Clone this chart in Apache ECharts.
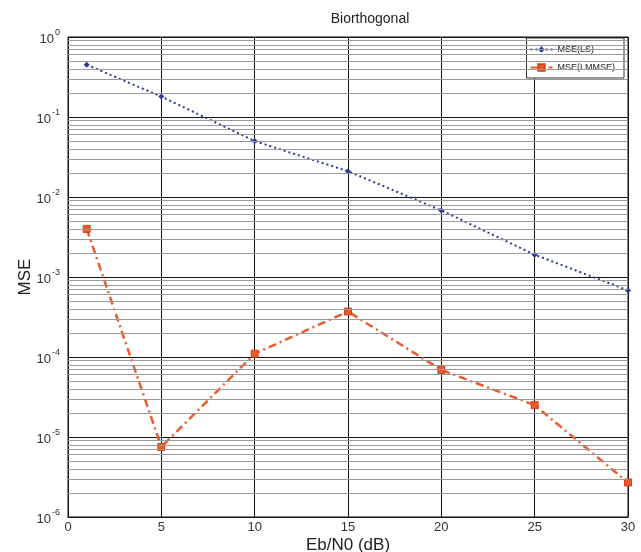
<!DOCTYPE html>
<html><head><meta charset="utf-8">
<script src="https://cdn.jsdelivr.net/npm/echarts@6/dist/echarts.min.js"></script>
<style>html,body{margin:0;padding:0;background:#fff}#c{width:641px;height:552px}</style>
</head><body><div id="c"></div>
<script>
const title = 'Biorthogonal';
const xValues = [1, 5, 10, 15, 20, 25, 30];
const mseLS = [0.45, 0.18, 0.05, 0.021, 0.0068, 0.0019, 0.00068];
const mseLMMSE = [0.0040, 7.5e-6, 1.1e-4, 3.7e-4, 6.9e-5, 2.5e-5, 2.7e-6];
const xTicks = [0, 5, 10, 15, 20, 25, 30];
const yDecades = [-6, -5, -4, -3, -2, -1, 0];

const minorLines = [];
for (let d = -6; d < 0; d++) for (let k = 2; k <= 9; k++) minorLines.push({yAxis: k * Math.pow(10, d)});

const chart = echarts.init(document.getElementById('c'), null, {renderer: 'canvas'});
chart.setOption({
  animation: false,
  backgroundColor: '#fff',
  title: {text: title, left: 365, top: 7, textAlign: 'center',
    textStyle: {fontFamily: 'Liberation Sans, Arial', fontSize: 14, fontWeight: 'normal', color: '#222'}},
  legend: {
    right: 17, top: 38, orient: 'vertical', itemGap: 9, itemWidth: 22, itemHeight: 8,
    backgroundColor: '#fff', borderColor: '#333', borderWidth: 1, padding: [7, 9, 6, 3],
    textStyle: {fontFamily: 'Liberation Sans, Arial', fontSize: 9, color: '#222'},
    data: ['MSE(LS)', 'MSE(LMMSE)']
  },
  grid: {left: 68, right: 13, top: 37, bottom: 35, show: true, borderColor: '#111', borderWidth: 1,
    containLabel: false, outerBoundsMode: 'none'},
  xAxis: {
    type: 'value', min: 0, max: 30, interval: 5,
    name: 'Eb/N0 (dB)', nameLocation: 'middle', nameGap: 20, nameMoveOverlap: false,
    nameTextStyle: {fontFamily: 'Liberation Sans, Arial', fontSize: 17, color: '#222'},
    axisLine: {lineStyle: {color: '#111'}},
    axisTick: {inside: true, length: 5, lineStyle: {color: '#111'}},
    axisLabel: {fontFamily: 'Liberation Sans, Arial', fontSize: 13, color: '#333', margin: 4,
      formatter: v => xTicks.includes(v) ? String(v) : ''},
    splitLine: {show: true, lineStyle: {color: '#111', width: 1}}
  },
  yAxis: {
    type: 'log', logBase: 10, min: 1e-6, max: 1,
    name: 'MSE', nameLocation: 'middle', nameGap: 34, nameMoveOverlap: false,
    nameTextStyle: {fontFamily: 'Liberation Sans, Arial', fontSize: 17, color: '#222'},
    axisLine: {lineStyle: {color: '#111'}},
    axisTick: {inside: true, length: 5, lineStyle: {color: '#111'}},
    axisLabel: {
      margin: 8, color: '#333',
      formatter: v => {
        const e = Math.round(Math.log10(v));
        return yDecades.includes(e) ? '{b|10}{s|' + e + '}' : '';
      },
      rich: {
        b: {fontFamily: 'Liberation Sans, Arial', fontSize: 13, color: '#333', verticalAlign: 'bottom'},
        s: {fontFamily: 'Liberation Sans, Arial', fontSize: 9, color: '#333', verticalAlign: 'top', padding: [0, 0, 8, 1]}
      }
    },
    splitLine: {show: true, lineStyle: {color: '#111', width: 1}}
  },
  series: [
    {
      name: 'grid-minor', type: 'line', data: [], silent: true, legendHoverLink: false,
      markLine: {silent: true, symbol: 'none', precision: 12, label: {show: false},
        lineStyle: {color: '#9a9a9a', width: 1, type: 'solid'}, data: minorLines}
    },
    {
      name: 'MSE(LS)', type: 'line', data: xValues.map((x, i) => [x, mseLS[i]]),
      symbol: 'diamond', symbolSize: 6,
      itemStyle: {color: '#2c3a94'},
      lineStyle: {color: '#2c3a94', width: 2, type: [2, 3]}
    },
    {
      name: 'MSE(LMMSE)', type: 'line', data: xValues.map((x, i) => [x, mseLMMSE[i]]),
      symbol: 'rect', symbolSize: 7,
      itemStyle: {color: '#ec5a2c', borderColor: '#d24418', borderWidth: 1},
      lineStyle: {color: '#ec5a2c', width: 2.5, type: [8, 4, 2, 4]}
    }
  ]
});
</script></body></html>
